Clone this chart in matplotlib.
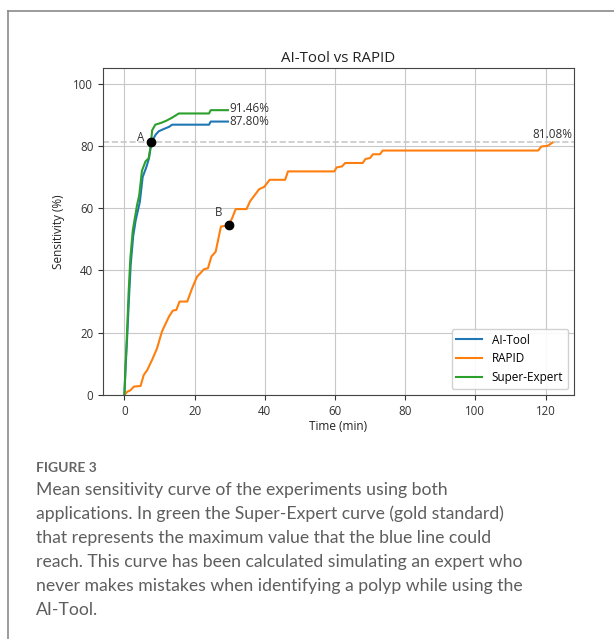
import matplotlib
matplotlib.use("Agg")
import matplotlib.pyplot as plt
from matplotlib.lines import Line2D

# ---------- data ----------
ai_time = [0, 0.3, 0.8, 1.3, 1.8, 2.5, 3.2, 3.8, 4.4, 5.2, 6.2, 7.0, 7.7,
           8.9, 9.8, 11.2, 12.7, 13.6, 24.1, 24.6, 29.5]
ai_sens = [0, 8, 19, 31, 42, 51, 56, 59, 62, 70, 73, 76, 81.08,
           83.6, 84.7, 85.4, 86.1, 86.8, 86.8, 87.80, 87.80]

se_time = [0, 0.3, 0.75, 1.2, 1.7, 2.4, 3.0, 3.6, 4.2, 5.0, 6.0, 6.9, 7.5,
           7.9, 8.8, 10.5, 12.0, 13.5, 15.5, 24.1, 24.6, 29.5]
se_sens = [0, 9, 20, 33, 44, 53, 57, 61, 64, 72, 75, 76, 80,
           85, 86.8, 87.4, 88.1, 89.0, 90.4, 90.4, 91.46, 91.46]

rapid_time = [0, 0.75, 1.7, 2.7, 4.6, 5.5, 6.5, 7.9, 9.3, 10.7, 12.7, 13.8,
              14.8, 15.7, 17.9, 19.3, 20.7, 22.7, 23.8, 24.8, 26.0, 27.5,
              28.7, 29.8, 30.7, 31.7, 34.8, 35.8, 38.4, 39.8, 41.4, 45.8,
              46.6, 59.8, 60.5, 62.0, 62.9, 67.9, 68.7, 70.0, 70.8, 72.8,
              73.6, 117.9, 118.8, 120.6, 122.0]
rapid_sens = [0, 1, 1.5, 2.7, 2.9, 6.4, 8, 11.3, 15, 20.4, 25.2, 27.1,
              27.3, 30, 30, 34.3, 38, 40.4, 40.7, 44.5, 46, 54.1,
              54.3, 54.7, 56.8, 59.7, 59.7, 62.2, 66.1, 66.8, 69.1, 69.1,
              71.8, 71.8, 73.1, 73.4, 74.5, 74.5, 75.8, 76.1, 77.3, 77.3,
              78.5, 78.5, 79.8, 80.0, 81.08]

point_a = (7.7, 81.08)
point_b = (29.8, 54.7)

caption_head = "FIGURE 3"
caption_lines = [
    "Mean sensitivity curve of the experiments using both",
    "applications. In green the Super-Expert curve (gold standard)",
    "that represents the maximum value that the blue line could",
    "reach. This curve has been calculated simulating an expert who",
    "never makes mistakes when identifying a polyp while using the",
    "AI-Tool.",
]

plt.rcParams['font.family'] = ['Open Sans', 'DejaVu Sans']

# ---------- figure ----------
fig = plt.figure(figsize=(6.14, 6.39), dpi=100)
W, H = 614, 639

ax = fig.add_axes([103 / W, 1 - 395 / H, (574 - 103) / W, (395 - 68) / H])

ax.plot(ai_time, ai_sens, color="#1f77b4", lw=1.5, label="AI-Tool")
ax.plot(rapid_time, rapid_sens, color="#ff7f0e", lw=1.5, label="RAPID")
ax.plot(se_time, se_sens, color="#2ca02c", lw=1.5, label="Super-Expert")

ax.axhline(81.08, color="#c8c8c8", ls="--", lw=1.2, zorder=1)

ax.plot(*point_a, "o", color="black", ms=6, zorder=5)
ax.plot(*point_b, "o", color="black", ms=6, zorder=5)
ax.text(4.6, 82.6, "A", fontsize=8.3, ha="center", va="center", color="#333333")
ax.text(26.9, 58.7, "B", fontsize=8.3, ha="center", va="center", color="#333333")

ax.text(se_time[-1] + 0.5, se_sens[-1] + 0.5, "%.2f%%" % se_sens[-1],
        fontsize=8.5, ha="left", va="center", color="#333333")
ax.text(ai_time[-1] + 0.5, ai_sens[-1], "%.2f%%" % ai_sens[-1],
        fontsize=8.5, ha="left", va="center", color="#333333")
ax.text(rapid_time[-1], rapid_sens[-1] + 0.6, "%.2f%%" % rapid_sens[-1],
        fontsize=8.5, ha="center", va="bottom", color="#333333")

ax.set_xlim(-6.1, 128.1)
ax.set_ylim(0, 105)
ax.set_xticks(range(0, 121, 20))
ax.set_yticks(range(0, 101, 20))
ax.tick_params(labelsize=8.3, colors="#333333")
ax.grid(True, color="#c8c8c8", lw=0.8)
ax.set_axisbelow(True)
ax.set_title("AI-Tool vs RAPID", fontsize=10.8, color="#222222", pad=4)
ax.set_xlabel("Time (min)", fontsize=8.5, color="#222222", labelpad=2)
ax.set_ylabel("Sensitivity (%)", fontsize=8.5, color="#222222", labelpad=6)
for s in ax.spines.values():
    s.set_color("#444444")
ax.legend(loc="lower right", fontsize=8.5, framealpha=0.9, handlelength=2.2)

# frame around figure panel
fig.add_artist(Line2D([7.5 / W, 7.5 / W], [0, 1 - 11 / H], color="#8a8a8a",
                      lw=1.2, transform=fig.transFigure))
fig.add_artist(Line2D([7.5 / W, 1], [1 - 11 / H, 1 - 11 / H], color="#8a8a8a",
                      lw=1.2, transform=fig.transFigure))

# caption
fig.text(36 / W, 1 - 468 / H, caption_head, fontsize=10, family="Lato",
         weight="bold", color="#666666", va="center")
for i, line in enumerate(caption_lines):
    fig.text(36 / W, 1 - (490 + 24 * i) / H, line, fontsize=12.7,
             family="Lato", color="#5e5e5e", va="center")

fig.savefig("out.png", dpi=100)
